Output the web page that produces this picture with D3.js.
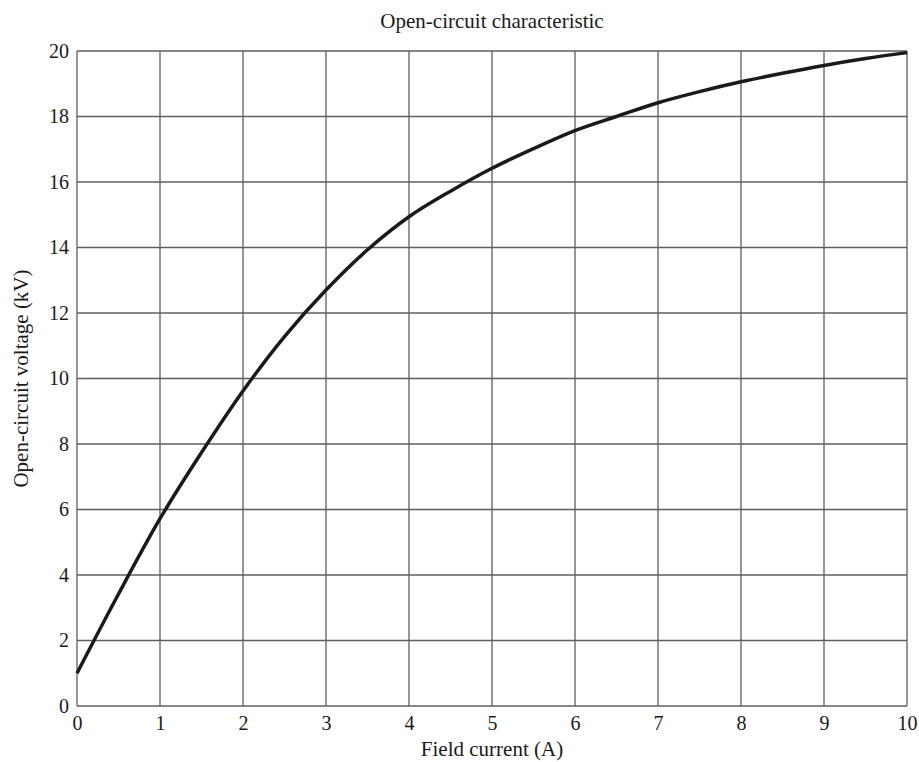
<!DOCTYPE html>
<html>
<head>
<meta charset="utf-8">
<script src="https://cdn.jsdelivr.net/npm/d3@7"></script>
<style>
  html, body { margin: 0; padding: 0; background: #fff; }
  svg { display: block; }
  text { font-family: "Liberation Serif", "Times New Roman", serif; fill: #1a1a1a; }
</style>
</head>
<body>
<svg id="chart" width="919" height="762"></svg>
<script>
const title = "Open-circuit characteristic";
const xLabel = "Field current (A)";
const yLabel = "Open-circuit voltage (kV)";
const fieldCurrent = [0, 0.5, 1, 1.5, 2, 2.5, 3, 3.5, 4, 4.5, 5, 5.5, 6, 6.5, 7, 7.5, 8, 8.5, 9, 9.5, 10];
const voltage = [1.0, 3.42, 5.72, 7.74, 9.62, 11.28, 12.7, 13.93, 14.94, 15.72, 16.42, 17.02, 17.57, 18.0, 18.42, 18.76, 19.06, 19.32, 19.56, 19.77, 19.95];
const xTicks = [0, 1, 2, 3, 4, 5, 6, 7, 8, 9, 10];
const yTicks = [0, 2, 4, 6, 8, 10, 12, 14, 16, 18, 20];

const margin = { left: 77, right: 12, top: 51, bottom: 56 };
const W = 919, H = 762;
const svg = d3.select("#chart");
const x = d3.scaleLinear().domain([0, 10]).range([margin.left, W - margin.right]);
const y = d3.scaleLinear().domain([0, 20]).range([H - margin.bottom, margin.top]);

const grid = svg.append("g");
grid.selectAll("line.v").data(xTicks).enter().append("line")
  .attr("x1", d => x(d)).attr("x2", d => x(d))
  .attr("y1", y(0)).attr("y2", y(20))
  .attr("stroke", "#5e5e5e").attr("stroke-width", 1.3);
grid.selectAll("line.h").data(yTicks).enter().append("line")
  .attr("x1", x(0)).attr("x2", x(10))
  .attr("y1", d => y(d)).attr("y2", d => y(d))
  .attr("stroke", "#5e5e5e").attr("stroke-width", 1.3);

const xAxis = d3.axisBottom(x).tickValues(xTicks).tickSize(0).tickPadding(10).tickFormat(d3.format("d"));
const gx = svg.append("g").attr("transform", `translate(0,${y(0)})`).call(xAxis);
gx.select(".domain").remove();
gx.selectAll("text").style("font-size", "20px").style("font-family", "Liberation Serif").attr("fill", "#1a1a1a");

const yAxis = d3.axisLeft(y).tickValues(yTicks).tickSize(0).tickPadding(8).tickFormat(d3.format("d"));
const gy = svg.append("g").attr("transform", `translate(${x(0)},0)`).call(yAxis);
gy.select(".domain").remove();
gy.selectAll("text").style("font-size", "20px").style("font-family", "Liberation Serif").attr("fill", "#1a1a1a");

const data = fieldCurrent.map((a, i) => [a, voltage[i]]);
const line = d3.line().x(d => x(d[0])).y(d => y(d[1])).curve(d3.curveCatmullRom.alpha(0.5));
svg.append("path").datum(data).attr("d", line)
  .attr("fill", "none").attr("stroke", "#1a1a1a").attr("stroke-width", 3.5)
  .attr("stroke-linecap", "butt").attr("stroke-linejoin", "round");

svg.append("text").attr("x", (x(0) + x(10)) / 2).attr("y", 28)
  .attr("text-anchor", "middle").style("font-size", "21px").text(title);
svg.append("text").attr("x", (x(0) + x(10)) / 2).attr("y", 756)
  .attr("text-anchor", "middle").style("font-size", "21px").text(xLabel);
svg.append("text").attr("transform", `translate(28,${(y(0) + y(20)) / 2}) rotate(-90)`)
  .attr("text-anchor", "middle").style("font-size", "21px").text(yLabel);
</script>
</body>
</html>
